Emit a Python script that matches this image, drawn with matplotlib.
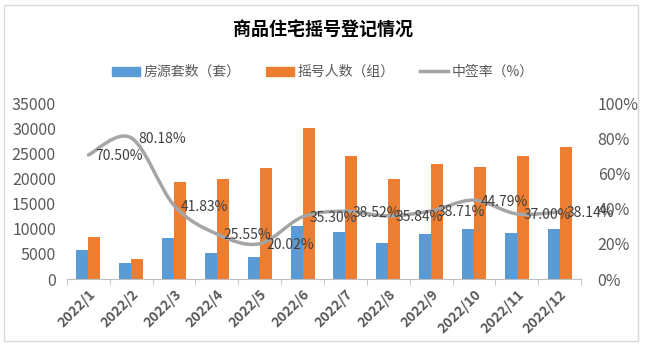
import numpy as np
import matplotlib
matplotlib.use('Agg')
import matplotlib.pyplot as plt
from matplotlib.patches import Rectangle
from matplotlib.path import Path
from matplotlib.patches import PathPatch
from matplotlib.lines import Line2D

plt.rcParams['font.family'] = ['Noto Sans CJK SC', 'DejaVu Sans']

# data
months = ['2022/1', '2022/2', '2022/3', '2022/4', '2022/5', '2022/6',
          '2022/7', '2022/8', '2022/9', '2022/10', '2022/11', '2022/12']
houses = [5830, 3250, 8100, 5100, 4400, 10600, 9400, 7150, 8880, 10000, 9050, 10030]
applicants = [8270, 4050, 19360, 19960, 21980, 30030, 24400, 19950, 22940, 22330, 24460, 26300]
rate = [70.50, 80.18, 41.83, 25.55, 20.02, 35.30, 38.52, 35.84, 38.71, 44.79, 37.00, 38.14]

c_blue = '#5B9BD5'
c_orange = '#ED7D31'
c_grey = '#A5A5A5'
c_text = '#595959'

W, H = 646, 351
fig = plt.figure(figsize=(W / 100, H / 100), dpi=100)

# chart border
fig.patches.append(Rectangle((4 / W, 1 - 341 / H), 634 / W, 336 / H, transform=fig.transFigure,
                             fill=False, edgecolor='#D9D9D9', linewidth=1))

ax = fig.add_axes([67 / W, 1 - 279 / H, (581 - 67) / W, 176 / H])
x = np.arange(len(months))
bw = 0.28
ax.bar(x - bw / 2, houses, bw, color=c_blue, label='房源套数（套）')
ax.bar(x + bw / 2, applicants, bw, color=c_orange, label='摇号人数（组）')

ax.set_xlim(-0.5, len(months) - 0.5)
ax.set_ylim(0, 35000)
ax.set_yticks(range(0, 35001, 5000))
ax.set_xticks(x)
ax.set_xticklabels(months, rotation=45, ha='right', rotation_mode='anchor',
                   fontsize=10, fontweight='bold', color=c_text)
ax.set_xticks(np.arange(-0.5, len(months)), minor=True)
ax.tick_params(axis='x', which='major', length=0, pad=6)
ax.tick_params(axis='x', which='minor', length=4, color='#BFBFBF', direction='out')
ax.tick_params(axis='y', length=0, labelsize=11.5, labelcolor=c_text, pad=8)
for s in ['top', 'right', 'left']:
    ax.spines[s].set_visible(False)
ax.spines['bottom'].set_color('#BFBFBF')

ax2 = ax.twinx()
ax2.set_ylim(0, 100)
ax2.set_yticks(range(0, 101, 20))
ax2.set_yticklabels([f'{v}%' for v in range(0, 101, 20)])
ax2.tick_params(axis='y', length=0, labelsize=11.5, labelcolor=c_text, pad=12)
for s in ax2.spines.values():
    s.set_visible(False)

# smoothed line (catmull-rom bezier like excel)
pts = np.column_stack([x, rate]).astype(float)
ext = np.vstack([pts[0], pts, pts[-1]])
verts = [tuple(pts[0])]
codes = [Path.MOVETO]
for i in range(len(pts) - 1):
    p0, p1, p2, p3 = ext[i], ext[i + 1], ext[i + 2], ext[i + 3]
    c1 = p1 + (p2 - p0) / 6
    c2 = p2 - (p3 - p1) / 6
    verts += [tuple(c1), tuple(c2), tuple(p2)]
    codes += [Path.CURVE4] * 3
ax2.add_patch(PathPatch(Path(verts, codes), fill=False, edgecolor=c_grey,
                        linewidth=2.5, capstyle='round'))

for xi, r in zip(x, rate):
    ax2.annotate(f'{r:.2f}%', (xi, r), xytext=(5, -1), textcoords='offset points',
                 ha='left', va='center', fontsize=10, color='#404040')

fig.text(0.5, 1 - 30 / H, '商品住宅摇号登记情况', ha='center', va='center',
         fontsize=13, fontweight='bold', color='#000000')

handles = [Rectangle((0, 0), 1, 1, color=c_blue), Rectangle((0, 0), 1, 1, color=c_orange),
           Line2D([0], [0], color=c_grey, linewidth=2.5)]
labels = ['房源套数（套）', '摇号人数（组）', '中签率（%）']
fig.legend(handles, labels, loc='center', bbox_to_anchor=(0.5, 1 - 72 / H), ncol=3,
           frameon=False, fontsize=10, handlelength=2.0, handleheight=0.6,
           columnspacing=1.8, handletextpad=0.3, labelcolor=c_text)

fig.savefig('out.png', dpi=100)
